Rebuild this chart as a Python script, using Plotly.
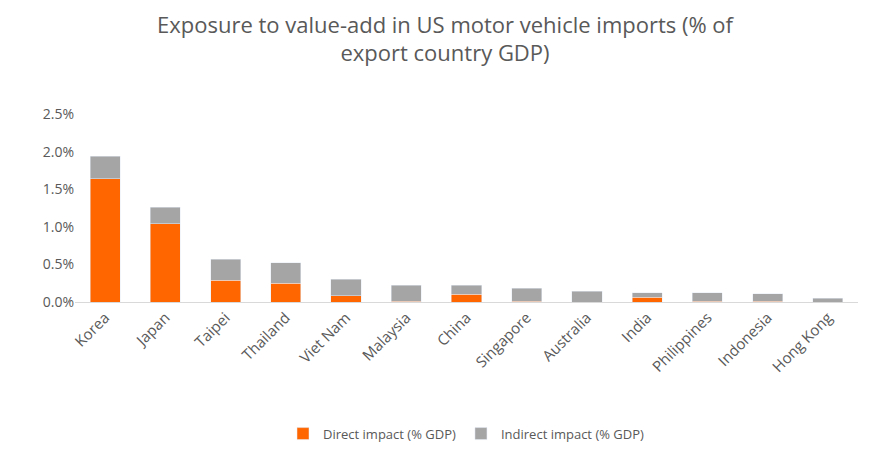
import plotly.graph_objects as go

countries = ["Korea","Japan","Taipei","Thailand","Viet Nam","Malaysia","China","Singapore","Australia","India","Philippines","Indonesia","Hong Kong"]
direct = [1.64,1.04,0.29,0.25,0.08,0.01,0.10,0.01,0.00,0.06,0.01,0.01,0.00]
indirect = [0.30,0.22,0.28,0.27,0.22,0.21,0.12,0.17,0.14,0.06,0.11,0.10,0.05]
d = [v/100 for v in direct]
ind = [v/100 for v in indirect]

fig = go.Figure()
fig.add_bar(x=countries, y=d, name="Direct impact (% GDP)", marker_color="#FF6600")
fig.add_bar(x=countries, y=ind, name="Indirect impact (% GDP)", marker_color="#A5A5A5")
fig.update_layout(
    barmode="stack", bargap=0.5,
    width=874, height=452, paper_bgcolor="white", plot_bgcolor="white",
    font=dict(family="Open Sans, Liberation Sans, sans-serif", color="#595959", size=14),
    title=dict(text="Exposure to value-add in US motor vehicle imports (% of<br>export country GDP)",
               x=0.5, xanchor="center", y=0.945, yanchor="top", font=dict(size=22, color="#595959")),
    margin=dict(l=67, r=24, t=106, b=158),
    legend=dict(orientation="h", traceorder="normal", x=0.5, xanchor="center", y=-0.78, yanchor="bottom", font=dict(size=13)),
    xaxis=dict(tickangle=-45, showline=True, linecolor="#D9D9D9", ticks="", tickfont=dict(size=15)),
    yaxis=dict(range=[0,0.025], dtick=0.005, tickformat=".1%", showgrid=False, zeroline=False, tickfont=dict(size=14)),
)
fig.write_html("out.html")
